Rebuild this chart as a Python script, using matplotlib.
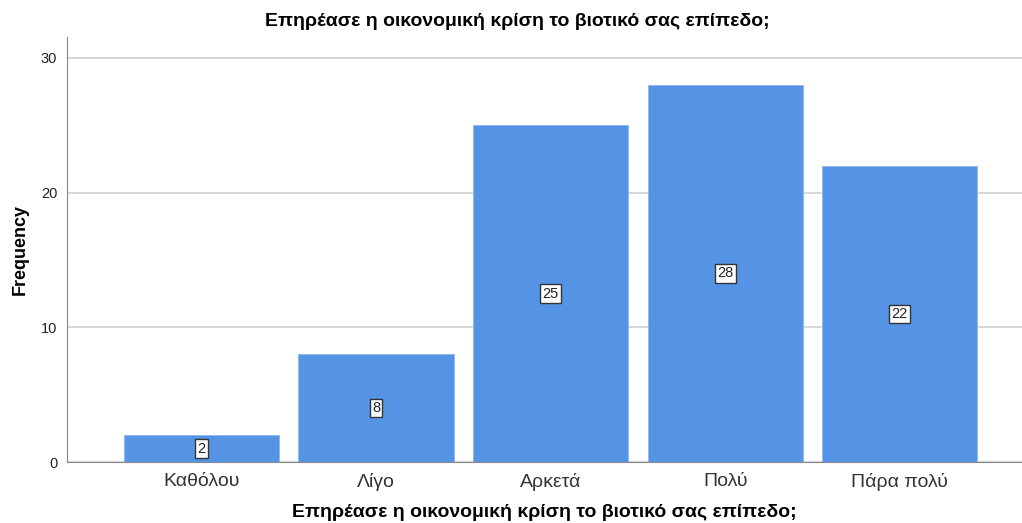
import matplotlib
matplotlib.use("Agg")
import matplotlib.pyplot as plt

categories = ["Καθόλου", "Λίγο", "Αρκετά", "Πολύ", "Πάρα πολύ"]
counts = [2, 8, 25, 28, 22]
yticks = [0, 10, 20, 30]
title = "Επηρέασε η οικονομική κρίση το βιοτικό σας επίπεδο;"

plt.rcParams["font.family"] = ["Liberation Sans", "DejaVu Sans"]

fig = plt.figure(figsize=(10.22, 5.23), dpi=100)
ax = fig.add_axes([67 / 1022, 61 / 523, 955 / 1022, 425 / 523])

x = list(range(len(categories)))
ax.bar(x, counts, width=0.89, color="#5594e4", edgecolor="#8fb8ee",
       linewidth=0.6, zorder=3)

# value labels in white boxes at half bar height
for xi, c in zip(x, counts):
    ax.text(xi, c / 2, str(c), ha="center", va="center", fontsize=10.5,
            color="#222222", zorder=4,
            bbox=dict(boxstyle="square,pad=0.15", fc="white", ec="#333333", lw=1))

ax.set_xlim(-0.77, 4.70)
ax.set_ylim(0, 31.55)
ax.set_yticks(yticks)
ax.set_xticks(x)
ax.set_xticklabels(categories, fontsize=14, color="#333333")
ax.tick_params(axis="y", labelsize=10.5, colors="#222222", length=0, pad=7)
ax.tick_params(axis="x", length=0, pad=8)
ax.grid(axis="y", color="#d0d0d0", lw=1.2, zorder=0)

for s in ["top", "right"]:
    ax.spines[s].set_visible(False)
ax.spines["left"].set_color("#888888")
ax.spines["bottom"].set_color("#888888")

ax.set_ylabel("Frequency", fontsize=13, fontweight="bold", labelpad=9)
ax.set_xlabel(title, fontsize=14, fontweight="bold", labelpad=9)
fig.text(517 / 1022, 1 - 22 / 523, title, ha="center",
         va="center", fontsize=14, fontweight="bold")

fig.savefig("out.png", dpi=100)
